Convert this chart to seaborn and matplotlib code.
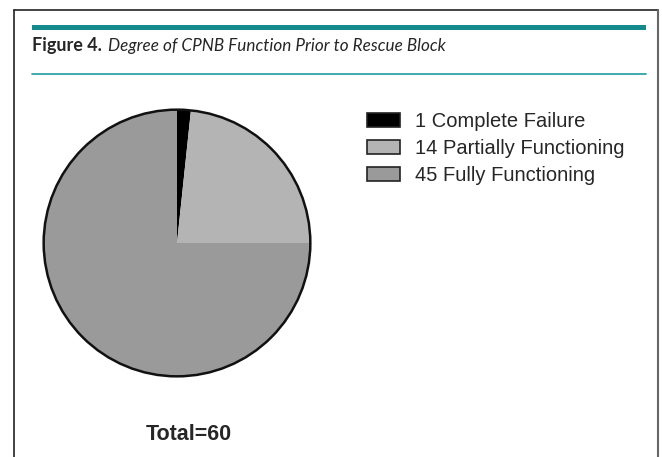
import matplotlib
matplotlib.use("Agg")
import matplotlib.pyplot as plt
import seaborn as sns
from matplotlib.patches import Patch, Rectangle
from matplotlib.lines import Line2D

# data
labels = ["Complete Failure", "Partially Functioning", "Fully Functioning"]
counts = [1, 14, 45]
colors = ["#000000", "#b4b4b4", "#9a9a9a"]
total = sum(counts)

sns.set_theme(style="white")
plt.rcParams["font.family"] = ["Liberation Sans", "DejaVu Sans"]

W, H = 662, 457
fig = plt.figure(figsize=(W / 100, H / 100), dpi=100)
fig.patch.set_facecolor("white")

def fx(x):
    return x / W

def fy(y):
    return 1 - y / H

# outer frame
fig.add_artist(Line2D([fx(14), fx(14)], [fy(10), fy(457)], color="#222222", lw=1.2))
fig.add_artist(Line2D([fx(14), fx(658)], [fy(10), fy(10)], color="#222222", lw=1.2))
fig.add_artist(Line2D([fx(658), fx(658)], [fy(10), fy(457)], color="#666666", lw=1.5))

# teal bars
fig.add_artist(Rectangle((fx(32), fy(30)), fx(646) - fx(32), 5 / H,
                         color="#148a8c", lw=0))
fig.add_artist(Line2D([fx(32), fx(646)], [fy(74), fy(74)], color="#1f9a9c", lw=1.2))

# title
fig.text(fx(32), fy(46), "Figure 4.", fontsize=13, fontweight="bold",
         family=["Lato", "DejaVu Sans"], va="center", ha="left")
fig.text(fx(108), fy(46), "Degree of CPNB Function Prior to Rescue Block", fontsize=12.3,
         style="italic", family=["Lato", "DejaVu Sans"], va="center", ha="left")

# pie
cx, cy, r = 177, 243, 136
ax = fig.add_axes([fx(cx - r), fy(cy + r), 2 * r / W, 2 * r / H])
ax.pie(counts, colors=colors, startangle=90, counterclock=False,
       wedgeprops=dict(linewidth=0), radius=1)
ax.add_patch(plt.Circle((0, 0), 1, fill=False, ec="#111111", lw=1.8))
ax.set_xlim(-1.02, 1.02)
ax.set_ylim(-1.02, 1.02)
ax.set_aspect("equal")
ax.axis("off")

# legend
handles = [Patch(facecolor=c, edgecolor="#222222", lw=1.2) for c in colors]
texts = [f"{n} {l}" for n, l in zip(counts, labels)]
fig.legend(handles, texts, loc="upper left", bbox_to_anchor=(fx(367), fy(112)),
           frameon=False, fontsize=14.5, handlelength=1.65, handleheight=0.75,
           handletextpad=0.75, labelspacing=0.4, borderaxespad=0, borderpad=0)

fig.text(fx(189), fy(434), f"Total={total}", fontsize=15.5, fontweight="bold",
         ha="center", va="center")

fig.savefig("out.png", dpi=100)
